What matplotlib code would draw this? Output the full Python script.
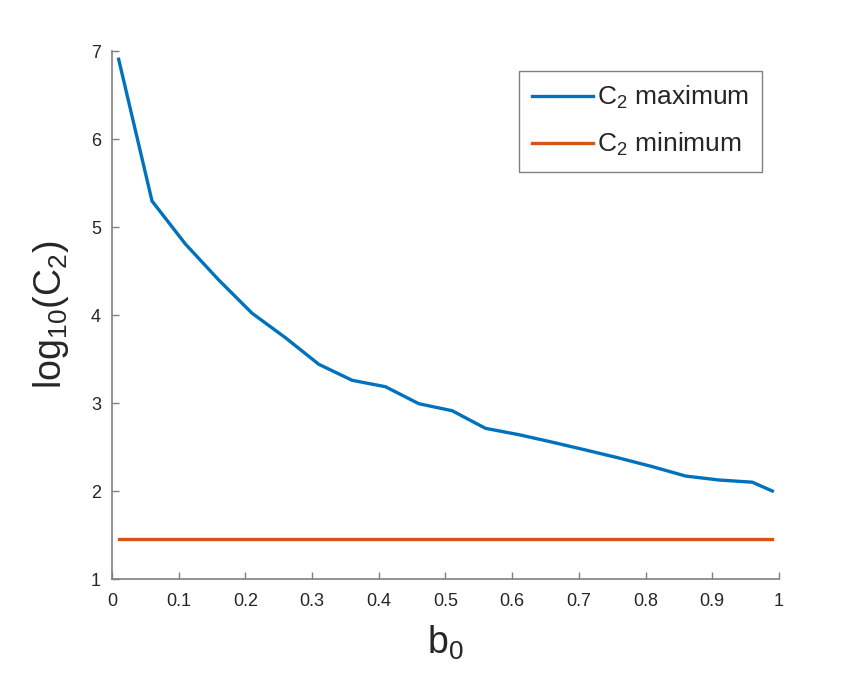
import matplotlib
matplotlib.use("Agg")
import matplotlib.pyplot as plt

b0 = [0.01, 0.06, 0.11, 0.16, 0.21, 0.26, 0.31, 0.36, 0.41, 0.46, 0.51, 0.56,
      0.61, 0.66, 0.71, 0.76, 0.81, 0.86, 0.91, 0.96, 0.99]
c2_max = [6.906, 5.295, 4.807, 4.398, 4.02, 3.742, 3.44, 3.258, 3.185, 2.992, 2.912, 2.712,
          2.64, 2.555, 2.466, 2.375, 2.277, 2.17, 2.125, 2.10, 2.0]
c2_min = [1.451] * len(b0)

plt.rcParams['font.family'] = ['Liberation Sans', 'DejaVu Sans']
plt.rcParams['mathtext.fontset'] = 'custom'
plt.rcParams['mathtext.rm'] = 'Liberation Sans'
plt.rcParams['mathtext.it'] = 'Liberation Sans'

fig = plt.figure(figsize=(8.62, 6.77), dpi=100)
ax = fig.add_axes([112/862, 1-579/677, (779-112)/862, (579-51)/677])

ax.plot(b0, c2_max, color='#0072BD', lw=2.4, label=r'$\mathregular{C_{2}}$ maximum')
ax.plot(b0, c2_min, color='#D95319', lw=2.4, label=r'$\mathregular{C_{2}}$ minimum')

ax.set_xlim(0, 1)
ax.set_ylim(1, 7)
ax.set_xticks([0, 0.1, 0.2, 0.3, 0.4, 0.5, 0.6, 0.7, 0.8, 0.9, 1])
ax.set_xticklabels(['0', '0.1', '0.2', '0.3', '0.4', '0.5', '0.6', '0.7', '0.8', '0.9', '1'])
ax.set_yticks([1, 2, 3, 4, 5, 6, 7])

for s in ['top', 'right']:
    ax.spines[s].set_visible(False)
for s in ['left', 'bottom']:
    ax.spines[s].set_color('#808080')
    ax.spines[s].set_linewidth(1.2)
ax.tick_params(direction='in', length=5, width=1, color='#808080',
               labelcolor='#262626', labelsize=13)
ax.tick_params(axis='x', pad=10)
ax.tick_params(axis='y', pad=8)

ax.set_xlabel(r'$\mathregular{b_0}$', fontsize=27, color='#262626', labelpad=10)
ax.set_ylabel(r'$\mathregular{log_{10}(C_2)}$', fontsize=27, color='#262626', labelpad=14)

leg = ax.legend(loc='upper right', bbox_to_anchor=(762/862, 1-71/677),
                bbox_transform=fig.transFigure, fontsize=19, frameon=True,
                fancybox=False, edgecolor='#808080', framealpha=1,
                handlelength=2.3, handletextpad=0.15, borderpad=0.5, labelspacing=0.75,
                borderaxespad=0)
leg.get_frame().set_linewidth(1.0)
for t in leg.get_texts():
    t.set_color('#262626')

fig.savefig('out.png', dpi=100)
